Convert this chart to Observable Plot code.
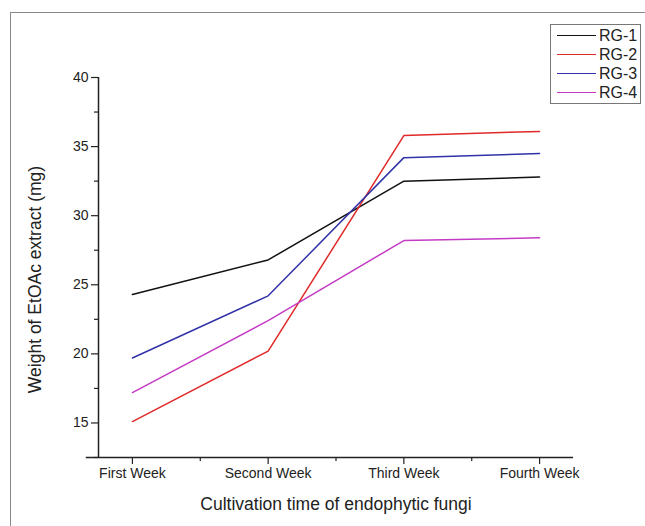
<!DOCTYPE html>
<html>
<head>
<meta charset="utf-8">
<script src="https://cdn.jsdelivr.net/npm/d3@7"></script>
<script src="https://cdn.jsdelivr.net/npm/@observablehq/plot@0.6"></script>
<style>
  html, body { margin: 0; padding: 0; background: #fff; }
  body { width: 645px; height: 526px; position: relative; overflow: hidden; font-family: "Liberation Sans", Arial, sans-serif; }
  #frame { position: absolute; left: 10px; top: 12px; width: 700px; height: 600px; border-left: 1.5px solid #888; border-top: 1.5px solid #888; box-sizing: border-box; }
  #chart { position: absolute; left: 0; top: 0; }
  #legend { position: absolute; left: 550px; top: 24px; width: 91px; height: 80px; border: 1px solid #777; background: #fff; box-sizing: border-box; }
  .row { position: absolute; left: 0; height: 19px; display: flex; align-items: center; font-size: 16px; color: #222; }
  .sw { width: 39px; height: 0; border-top: 1.5px solid; margin-left: 6px; margin-right: 3px; }
</style>
</head>
<body>
<div id="frame"></div>
<div id="chart"></div>
<div id="legend"></div>
<script>
const categories = ["First Week", "Second Week", "Third Week", "Fourth Week"];
const seriesNames = ["RG-1", "RG-2", "RG-3", "RG-4"];
const rg1 = [24.3, 26.8, 32.5, 32.8];
const rg2 = [15.1, 20.2, 35.8, 36.1];
const rg3 = [19.7, 24.2, 34.2, 34.5];
const rg4 = [17.2, 22.4, 28.2, 28.4];
const colors = ["#111111", "#e02a2a", "#3232a8", "#c43cc4"];
const yMajor = [15, 20, 25, 30, 35, 40];
const yMinor = [12.5, 17.5, 22.5, 27.5, 32.5, 37.5];
const xMinor = [0.5, 1.5, 2.5];

const seriesValues = [rg1, rg2, rg3, rg4];
const data = [];
seriesValues.forEach((vals, s) => vals.forEach((v, i) => data.push({series: seriesNames[s], i, v})));

const font = "Liberation Sans, Arial, sans-serif";
const chart = Plot.plot({
  width: 645,
  height: 526,
  marginLeft: 98,
  marginRight: 72,
  marginTop: 77,
  marginBottom: 69,
  style: {fontFamily: font, fontSize: "14px", color: "#222", background: "transparent"},
  x: {domain: [-0.25, 3.25], axis: null},
  y: {domain: [12.5, 40], axis: null},
  color: {domain: seriesNames, range: colors},
  marks: [
    Plot.ruleY([12.5], {x1: -0.34, x2: 3.25, stroke: "#222", strokeWidth: 1.5}),
    Plot.ruleX([-0.25], {y1: 12.5, y2: 40, stroke: "#222", strokeWidth: 1.5}),
    Plot.axisY({ticks: yMajor, tickSize: 7, tickPadding: 3, label: null, fontSize: 14, stroke: "#222", strokeWidth: 1.2}),
    Plot.axisY({ticks: yMinor, tickSize: 4, text: null, label: null, stroke: "#222", strokeWidth: 1.2}),
    Plot.axisX({ticks: [0, 1, 2, 3], tickFormat: i => categories[i], tickSize: 7, tickPadding: 4, label: null, fontSize: 14, stroke: "#222", strokeWidth: 1.2}),
    Plot.axisX({ticks: xMinor, tickSize: 4, text: null, label: null, stroke: "#222", strokeWidth: 1.2}),
    Plot.line(data, {x: "i", y: "v", stroke: "series", z: "series", strokeWidth: 1.5}),
    Plot.text(["Weight of EtOAc extract (mg)"], {frameAnchor: "left", textAnchor: "middle", dx: -63, dy: 12, rotate: -90, fontSize: 17.5, fill: "#222"}),
    Plot.text(["Cultivation time of endophytic fungi"], {frameAnchor: "bottom", dy: 52, fontSize: 17.5, fill: "#222"})
  ]
});
document.getElementById("chart").appendChild(chart);

const legend = document.getElementById("legend");
seriesNames.forEach((name, k) => {
  const row = document.createElement("div");
  row.className = "row";
  row.style.top = (1 + k * 19) + "px";
  const sw = document.createElement("span");
  sw.className = "sw";
  sw.style.borderTopColor = colors[k];
  const t = document.createElement("span");
  t.textContent = name;
  row.appendChild(sw);
  row.appendChild(t);
  legend.appendChild(row);
});
</script>
</body>
</html>
